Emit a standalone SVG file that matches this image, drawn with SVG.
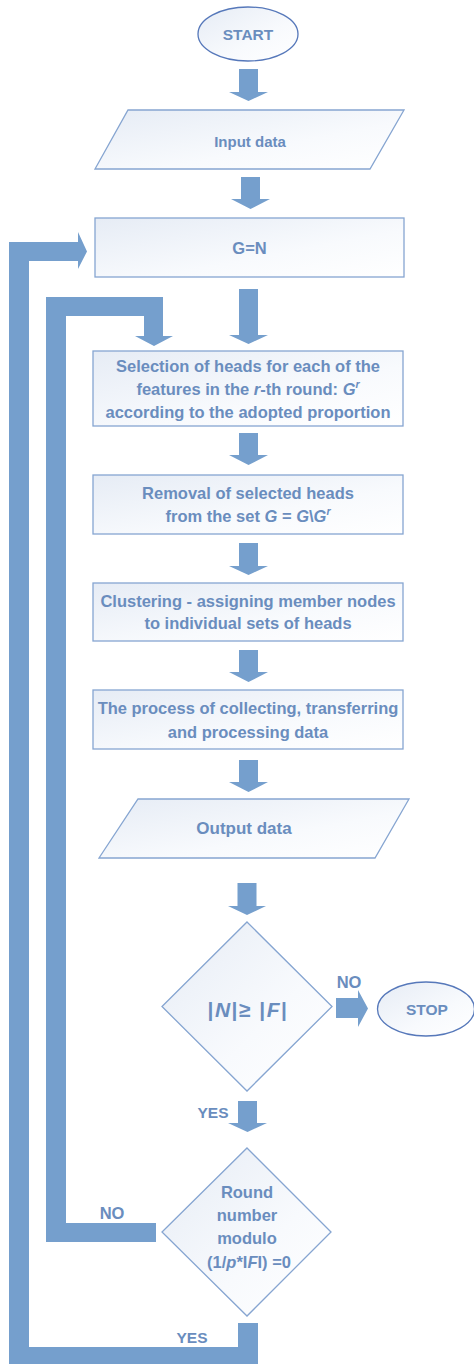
<svg xmlns="http://www.w3.org/2000/svg" width="474" height="1364" viewBox="0 0 474 1364">
  <defs>
    <linearGradient id="nodeFill" x1="0" y1="0" x2="1" y2="1">
      <stop offset="0" stop-color="#E6ECF5"/>
      <stop offset="0.6" stop-color="#F8FAFD"/>
      <stop offset="1" stop-color="#FFFFFF"/>
    </linearGradient>
    <style>
      .box { fill: url(#nodeFill); stroke: #86A5D1; stroke-width: 1.3; }
      .term { fill: url(#nodeFill); stroke: #5678BA; stroke-width: 1.3; }
      .arrow { fill: #759FCD; stroke: none; }
      text { font-family: "Liberation Sans", Arial, sans-serif; font-weight: bold; fill: #6A8DBE; text-anchor: middle; font-size: 16.5px; }
      .it { font-style: italic; }
      .sup { font-size: 10.5px; font-style: italic; }
    </style>
  </defs>
  <rect width="474" height="1364" fill="#FFFFFF"/>

  <!-- connectors -->
  <g id="connectors">
    <polygon class="arrow" points="239,69 258,69 258,92 268,92 248.5,101 229,92 239,92"/>
    <polygon class="arrow" points="241,177 260,177 260,199 270,199 250.5,209 231,199 241,199"/>
    <polygon class="arrow" points="239,289 258,289 258,335 268,335 248.5,344 229,335 239,335"/>
    <polygon class="arrow" points="239,433 258,433 258,455 268,455 248.5,465 229,455 239,455"/>
    <polygon class="arrow" points="239,543 258,543 258,566 268,566 248.5,575 229,566 239,566"/>
    <polygon class="arrow" points="239,650 258,650 258,672 268,672 248.5,682 229,672 239,672"/>
    <polygon class="arrow" points="239,760 258,760 258,782 268,782 248.5,792 229,782 239,782"/>
    <polygon class="arrow" points="237.5,883 256.5,883 256.5,906 266,906 247,915 228,906 237.5,906"/>
    <polygon class="arrow" points="238,1101 257,1101 257,1123 267,1123 247.5,1132 228,1123 238,1123"/>
    <!-- NO branch to STOP -->
    <polygon class="arrow" points="336,998 358,998 358,990 368,1008.5 358,1027 358,1018 336,1018"/>
    <!-- inner loop: NO branch back to head selection -->
    <polygon class="arrow" points="156,1223 66,1223 66,316 144,316 144,336 135,336 154,346 173,336 163,336 163,297 46,297 46,1242 156,1242"/>
    <!-- outer loop: YES branch back to G=N -->
    <polygon class="arrow" points="238,1323 258,1323 258,1364 9,1364 9,242 78,242 78,232 87,251.5 78,269 78,261 29,261 29,1347 238,1347"/>
    <text x="349" y="988">NO</text>
    <text x="213" y="1117.5" style="font-size:15.5px">YES</text>
    <text x="112" y="1219">NO</text>
    <text x="192" y="1342.5" style="font-size:15.5px">YES</text>
  </g>

  <g id="start">
    <ellipse class="term" cx="248" cy="34" rx="50" ry="27"/>
    <text x="248" y="39.5" style="font-size:15.5px">START</text>
  </g>

  <g id="input-data">
    <polygon class="box" points="128,110 404,110 370,169 95,169"/>
    <text x="250" y="147.2" style="font-size:15px">Input data</text>
  </g>

  <g id="init-g">
    <rect class="box" x="95" y="218" width="309" height="59"/>
    <text x="249.5" y="254">G=N</text>
  </g>

  <g id="head-selection">
    <rect class="box" x="93" y="351" width="310" height="75"/>
    <text x="248" y="371.8">Selection of heads for each of the</text>
    <text x="248" y="394.8">features in the <tspan class="it">r</tspan>-th round: <tspan class="it">G</tspan><tspan class="sup" dy="-7">r</tspan></text>
    <text x="248" y="417.8">according to the adopted proportion</text>
  </g>

  <g id="head-removal">
    <rect class="box" x="93" y="475" width="310" height="59"/>
    <text x="248" y="498.8">Removal of selected heads</text>
    <text x="248" y="521.8">from the set <tspan class="it">G</tspan> = <tspan class="it">G</tspan>\<tspan class="it">G</tspan><tspan class="sup" dy="-7">r</tspan></text>
  </g>

  <g id="clustering">
    <rect class="box" x="93" y="583" width="310" height="58"/>
    <text x="248" y="606.8">Clustering - assigning member nodes</text>
    <text x="248" y="628.8">to individual sets of heads</text>
  </g>

  <g id="data-processing">
    <rect class="box" x="93" y="690" width="310" height="59"/>
    <text x="248" y="713.8">The process of collecting, transferring</text>
    <text x="248" y="737.8">and processing data</text>
  </g>

  <g id="output-data">
    <polygon class="box" points="138,799 409,799 375,858 99,858"/>
    <text x="244" y="834" style="font-size:17px">Output data</text>
  </g>

  <g id="check-nodes">
    <polygon class="box" points="247,922 332,1006.5 247,1091 162,1006.5"/>
    <text x="248" y="1016.5" style="font-size:21px; letter-spacing:1.5px">|<tspan class="it">N</tspan>|≥ |<tspan class="it">F</tspan>|</text>
  </g>

  <g id="stop">
    <ellipse class="term" cx="426" cy="1009" rx="48.5" ry="27"/>
    <text x="427" y="1014.5" style="font-size:15.5px">STOP</text>
  </g>

  <g id="check-round">
    <polygon class="box" points="247,1148 331,1232 247,1316 162,1232"/>
    <text x="247" y="1197.8">Round</text>
    <text x="247" y="1220.8">number</text>
    <text x="247" y="1243.8">modulo</text>
    <text x="249" y="1267.8">(1/<tspan class="it">p</tspan>*I<tspan class="it">F</tspan>I) =0</text>
  </g>
</svg>
